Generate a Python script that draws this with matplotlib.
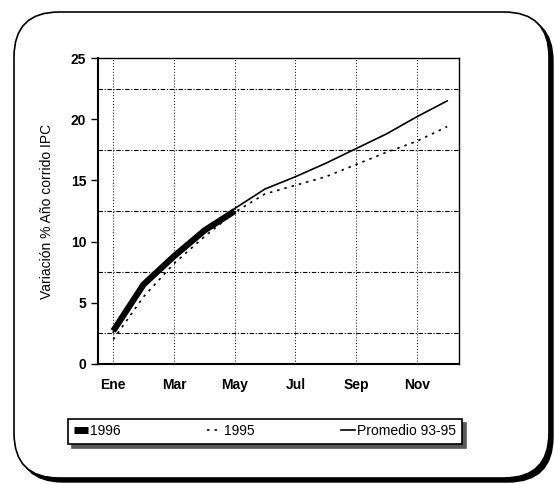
import matplotlib.pyplot as plt
from matplotlib.patches import FancyBboxPatch
from matplotlib.lines import Line2D

meses = [1, 2, 3, 4, 5, 6, 7, 8, 9, 10, 11, 12]
etiquetas = ['Ene', 'Mar', 'May', 'Jul', 'Sep', 'Nov']
ipc_1996 = [2.7, 6.5, 8.8, 10.9, 12.5]
ipc_1995 = [2.0, 5.5, 8.2, 10.4, 12.4, 13.9, 14.6, 15.3, 16.3, 17.3, 18.2, 19.4]
promedio = [2.6, 6.6, 8.9, 10.9, 12.7, 14.3, 15.3, 16.4, 17.6, 18.8, 20.2, 21.5]

plt.rcParams['font.family'] = ['Liberation Sans', 'DejaVu Sans']

fig = plt.figure(figsize=(5.54, 4.84), dpi=100)

# marco redondeado con sombra abajo/derecha
sombra = FancyBboxPatch((0.18, 0.02), 5.35, 4.66, boxstyle='round,pad=0,rounding_size=0.45',
                        transform=fig.dpi_scale_trans, facecolor='black', edgecolor='black', zorder=0)
marco = FancyBboxPatch((0.14, 0.06), 5.35, 4.66, boxstyle='round,pad=0,rounding_size=0.45',
                       transform=fig.dpi_scale_trans, facecolor='white', edgecolor='black', lw=1.2, zorder=1)
fig.patches.extend([sombra, marco])

ax = fig.add_axes([0.177, 0.248, 0.652, 0.632])
ax.set_zorder(2)

ax.plot(meses, promedio, color='black', lw=1.2)
ax.plot(meses, ipc_1995, color='black', lw=1.2, ls=(0, (1.5, 3)))
ax.plot(meses[:len(ipc_1996)], ipc_1996, color='black', lw=4.5, solid_capstyle='butt')

ax.set_xlim(0.5, 12.4)
ax.set_ylim(0, 25)
ax.set_xticks([1, 3, 5, 7, 9, 11])
ax.set_xticklabels(etiquetas, fontsize=10, fontweight='bold')
ax.set_yticks([0, 5, 10, 15, 20, 25])
ax.set_yticks([2.5, 7.5, 12.5, 17.5, 22.5], minor=True)
ax.tick_params(axis='y', labelsize=10, width=1, length=5)
ax.tick_params(axis='x', length=0, pad=10)
ax.tick_params(axis='y', which='minor', length=0)
for lbl in ax.get_yticklabels():
    lbl.set_fontweight('bold')

ax.grid(axis='x', which='major', color='black', ls=(0, (1, 2)), lw=0.7)
ax.grid(axis='y', which='minor', color='black', ls=(0, (4, 1.5, 1, 1.5)), lw=0.8)

for s in ['left', 'bottom']:
    ax.spines[s].set_linewidth(1.5)
for s in ['top', 'right']:
    ax.spines[s].set_linewidth(1.0)

ax.set_ylabel('Variación % Año corrido IPC', fontsize=10, labelpad=12)

handles = [Line2D([], [], color='black', lw=5, solid_capstyle='butt'),
           Line2D([], [], color='black', lw=1.2, ls=(0, (1.5, 3))),
           Line2D([], [], color='black', lw=1.2)]
leg = fig.legend(handles, ['1996', '1995', 'Promedio 93-95'], loc='lower left',
                 bbox_to_anchor=(0.123, 0.083, 0.711, 0.074), mode='expand', ncol=3,
                 handlelength=1.0, handletextpad=0.2, fontsize=10, fancybox=False,
                 edgecolor='black', borderaxespad=0,
                 shadow={'ox': 3, 'oy': -3, 'color': '0.35', 'alpha': 1})
leg.get_frame().set_linewidth(1.2)
leg.set_zorder(3)

fig.savefig('out.png', dpi=100)
